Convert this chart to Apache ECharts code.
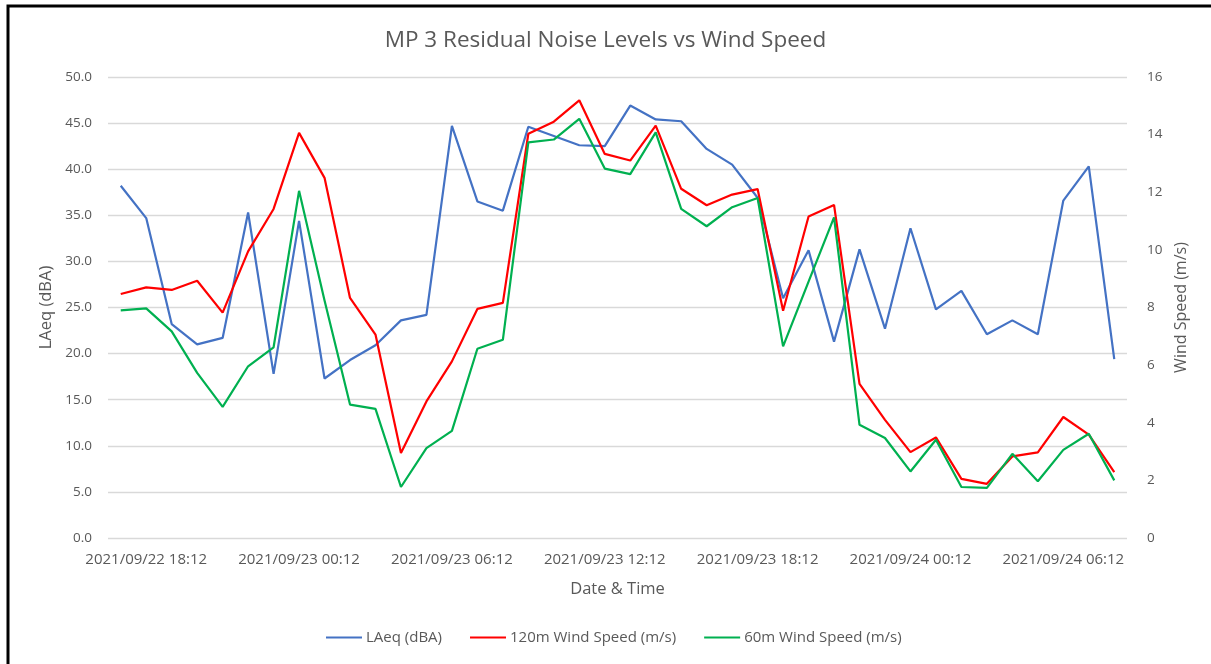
<!DOCTYPE html>
<html>
<head>
<meta charset="utf-8">
<script src="https://cdn.jsdelivr.net/npm/echarts@6/dist/echarts.min.js"></script>
<style>
html,body{margin:0;padding:0;background:#fff;}
#chart{width:1211px;height:664px;}
</style>
</head>
<body>
<div id="chart"></div>
<script>
// Hourly categories 2021/09/22 17:12 .. 2021/09/24 08:12
const categories = [
  "2021/09/22 17:12","2021/09/22 18:12","2021/09/22 19:12","2021/09/22 20:12","2021/09/22 21:12",
  "2021/09/22 22:12","2021/09/22 23:12","2021/09/23 00:12","2021/09/23 01:12","2021/09/23 02:12",
  "2021/09/23 03:12","2021/09/23 04:12","2021/09/23 05:12","2021/09/23 06:12","2021/09/23 07:12",
  "2021/09/23 08:12","2021/09/23 09:12","2021/09/23 10:12","2021/09/23 11:12","2021/09/23 12:12",
  "2021/09/23 13:12","2021/09/23 14:12","2021/09/23 15:12","2021/09/23 16:12","2021/09/23 17:12",
  "2021/09/23 18:12","2021/09/23 19:12","2021/09/23 20:12","2021/09/23 21:12","2021/09/23 22:12",
  "2021/09/23 23:12","2021/09/24 00:12","2021/09/24 01:12","2021/09/24 02:12","2021/09/24 03:12",
  "2021/09/24 04:12","2021/09/24 05:12","2021/09/24 06:12","2021/09/24 07:12","2021/09/24 08:12"
];
const laeq = [
  38.2,34.7,23.2,21.0,21.7,35.3,17.8,34.4,17.3,19.3,
  20.9,23.6,24.2,44.7,36.5,35.5,44.6,43.6,42.6,42.5,
  46.9,45.4,45.2,42.2,40.5,36.9,26.0,31.2,21.3,31.3,
  22.7,33.6,24.8,26.8,22.1,23.6,22.1,36.6,40.3,19.4
];
const wind120 = [
  8.47,8.70,8.61,8.93,7.82,9.95,11.42,14.06,12.5,8.33,
  7.06,2.95,4.74,6.13,7.95,8.16,14.03,14.45,15.19,13.33,
  13.10,14.31,12.12,11.55,11.92,12.11,7.89,11.16,11.56,5.35,
  4.10,2.98,3.49,2.05,1.88,2.83,2.97,4.20,3.59,2.29
];
const wind60 = [
  7.90,7.97,7.17,5.73,4.55,5.96,6.62,12.05,8.24,4.63,
  4.48,1.77,3.12,3.72,6.57,6.88,13.73,13.83,14.55,12.82,
  12.63,14.08,11.42,10.82,11.48,11.80,6.65,8.90,11.13,3.93,
  3.47,2.31,3.41,1.77,1.74,2.92,1.97,3.06,3.62,2.00
];
const leftTicks = { min: 0, max: 50, interval: 5 };
const rightTicks = { min: 0, max: 16, interval: 2 };

const FONT = "'Open Sans', 'Noto Sans', sans-serif";
const TXT = '#595959';

const chart = echarts.init(document.getElementById('chart'), null, {renderer: 'canvas'});
chart.setOption({
  animation: false,
  backgroundColor: '#fff',
  textStyle: { fontFamily: FONT },
  title: {
    text: 'MP 3 Residual Noise Levels vs Wind Speed',
    left: 'center', top: 24,
    textStyle: { fontFamily: FONT, fontSize: 22.5, fontWeight: 'normal', color: TXT }
  },
  graphic: [{
    type: 'rect',
    shape: { x: 8, y: 6, width: 1215, height: 680 },
    style: { fill: 'none', stroke: '#000', lineWidth: 3 },
    silent: true, z: 100
  }],
  legend: {
    bottom: 14, left: 321,
    itemWidth: 36, itemHeight: 2, itemGap: 28,
    icon: 'rect',
    textStyle: { fontFamily: FONT, fontSize: 15, color: TXT, padding: [0,0,0,-1] },
    data: ['LAeq (dBA)', '120m Wind Speed (m/s)', '60m Wind Speed (m/s)']
  },
  grid: { left: 108, right: 84, top: 77, bottom: 126, containLabel: false },
  xAxis: {
    type: 'category',
    data: categories,
    boundaryGap: true,
    name: 'Date & Time',
    nameLocation: 'middle',
    nameGap: 43,
    nameTextStyle: { fontFamily: FONT, fontSize: 16.5, color: TXT },
    axisLine: { show: false },
    axisTick: { show: false },
    axisLabel: {
      interval: (i) => i % 6 === 1,
      color: TXT, fontSize: 15, fontFamily: FONT, margin: 14
    },
    splitLine: { show: false }
  },
  yAxis: [{
    type: 'value',
    min: leftTicks.min, max: leftTicks.max, interval: leftTicks.interval,
    name: 'LAeq (dBA)',
    nameLocation: 'middle',
    nameGap: 53,
    nameRotate: 90,
    nameTextStyle: { fontFamily: FONT, fontSize: 16.5, color: TXT },
    axisLine: { show: false },
    axisTick: { show: false },
    axisLabel: { color: TXT, fontSize: 13.5, fontFamily: FONT, margin: 16, formatter: v => v.toFixed(1) },
    splitLine: { lineStyle: { color: '#d9d9d9', width: 1.3 } }
  }, {
    type: 'value',
    position: 'right',
    min: rightTicks.min, max: rightTicks.max, interval: rightTicks.interval,
    name: 'Wind Speed (m/s)',
    nameLocation: 'middle',
    nameGap: 43,
    nameRotate: 90,
    nameTextStyle: { fontFamily: FONT, fontSize: 16, color: TXT },
    axisLine: { show: false },
    axisTick: { show: false },
    axisLabel: { color: TXT, fontSize: 13.5, fontFamily: FONT, margin: 20 },
    splitLine: { show: false }
  }],
  series: [{
    name: 'LAeq (dBA)', type: 'line', yAxisIndex: 0, data: laeq,
    symbol: 'none', lineStyle: { color: '#4472C4', width: 2.2 }, itemStyle: { color: '#4472C4' }
  }, {
    name: '120m Wind Speed (m/s)', type: 'line', yAxisIndex: 1, data: wind120,
    symbol: 'none', lineStyle: { color: '#FF0000', width: 2.2 }, itemStyle: { color: '#FF0000' }
  }, {
    name: '60m Wind Speed (m/s)', type: 'line', yAxisIndex: 1, data: wind60,
    symbol: 'none', lineStyle: { color: '#00B050', width: 2.2 }, itemStyle: { color: '#00B050' }
  }]
});
</script>
</body>
</html>
